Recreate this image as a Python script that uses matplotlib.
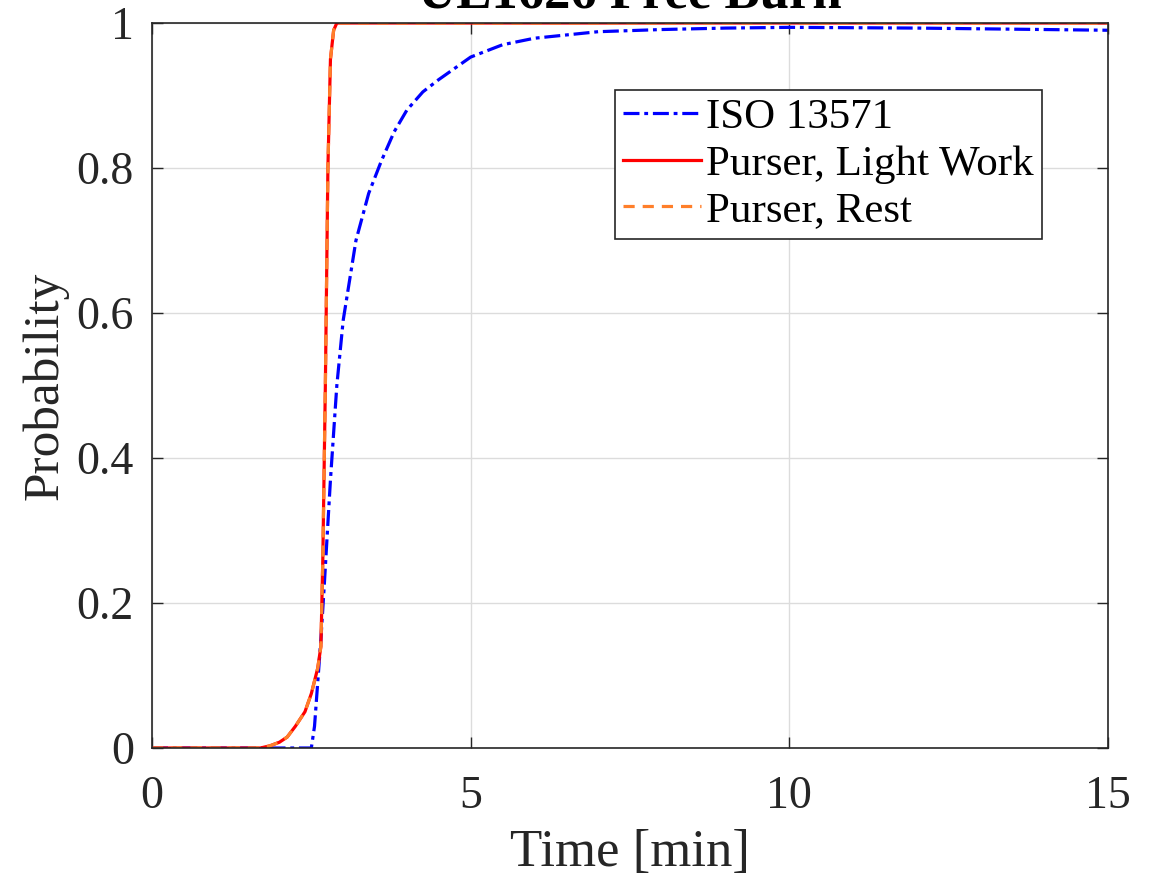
import numpy as np
import matplotlib
matplotlib.use('Agg')
import matplotlib.pyplot as plt

plt.rcParams['font.family'] = ['Liberation Serif', 'DejaVu Serif']

# ISO 13571 FED-based incapacitation probability
iso_t = [0, 2.5, 2.55, 2.6, 2.65, 2.7, 2.8, 2.9, 3.0, 3.2, 3.4, 3.6, 3.8, 4.0,
         4.25, 4.5, 5.0, 5.5, 6.0, 7.0, 8.0, 9.0, 10.0, 12.0, 15.0]
iso_p = [0, 0, 0.03, 0.09, 0.15, 0.22, 0.37, 0.50, 0.59, 0.70, 0.765, 0.81, 0.85, 0.88,
         0.905, 0.922, 0.953, 0.97, 0.979, 0.988, 0.991, 0.993, 0.994, 0.993, 0.990]

# Purser model, light work
light_t = [0, 1.7, 1.85, 2.0, 2.12, 2.25, 2.4, 2.5, 2.6, 2.65, 2.68, 2.72, 2.76,
           2.8, 2.85, 2.9, 15.0]
light_p = [0, 0, 0.003, 0.008, 0.015, 0.03, 0.05, 0.075, 0.11, 0.14, 0.26, 0.5, 0.8,
           0.95, 0.99, 1.0, 1.0]

# Purser model, rest
rest_t = [0, 1.7, 1.85, 2.0, 2.12, 2.25, 2.4, 2.5, 2.6, 2.65, 2.68, 2.72, 2.76,
          2.8, 2.85, 2.9, 15.0]
rest_p = [0, 0, 0.003, 0.008, 0.015, 0.03, 0.05, 0.075, 0.11, 0.14, 0.26, 0.5, 0.8,
          0.95, 0.99, 1.0, 1.0]

fig = plt.figure(figsize=(11.56, 8.8), dpi=100)
ax = fig.add_axes([152 / 1156, 1 - 748 / 880, (1108 - 152) / 1156, (748 - 23) / 880])

ax.plot(iso_t, iso_p, color='#0000ff', lw=2.3, ls=(0, (5, 1.5, 1.2, 1.5)), label='ISO 13571')
ax.plot(light_t, light_p, color='#ff0000', lw=2.3, ls='-', label='Purser, Light Work')
ax.plot(rest_t, rest_p, color='#ff7f2a', lw=2.3, ls=(0, (3.5, 2.5)), label='Purser, Rest')

ax.set_xlim(0, 15)
ax.set_ylim(0, 1)
ax.set_xticks([0, 5, 10, 15])
ax.set_yticks([0, 0.2, 0.4, 0.6, 0.8, 1])
ax.set_yticklabels(['0', '0.2', '0.4', '0.6', '0.8', '1'])
ax.grid(True, color='#dcdcdc', lw=1.0)
ax.set_axisbelow(True)
ax.tick_params(direction='in', length=8, width=1, colors='#262626', labelsize=33,
               top=True, right=True)
ax.tick_params(axis='x', pad=20)
ax.tick_params(axis='y', pad=13)
for s in ax.spines.values():
    s.set_color('#262626')
    s.set_linewidth(1.2)

ax.set_xlabel('Time [min]', fontsize=38, color='#262626', labelpad=8)
ax.set_ylabel('Probability', fontsize=37, color='#262626', labelpad=6)

fig.text(630 / 1156, 1 - 8 / 880, 'UL1626 Free Burn', fontsize=38, fontweight='bold',
         ha='center', va='baseline')

leg = ax.legend(loc='upper right', bbox_to_anchor=(0.931, 0.908), fontsize=31,
                frameon=True, fancybox=False, edgecolor='#262626', framealpha=1,
                handlelength=1.8, handletextpad=0.12, borderpad=0.2,
                labelspacing=0.17, borderaxespad=0)
leg.get_frame().set_linewidth(1.2)

fig.savefig('out.png', dpi=100)
